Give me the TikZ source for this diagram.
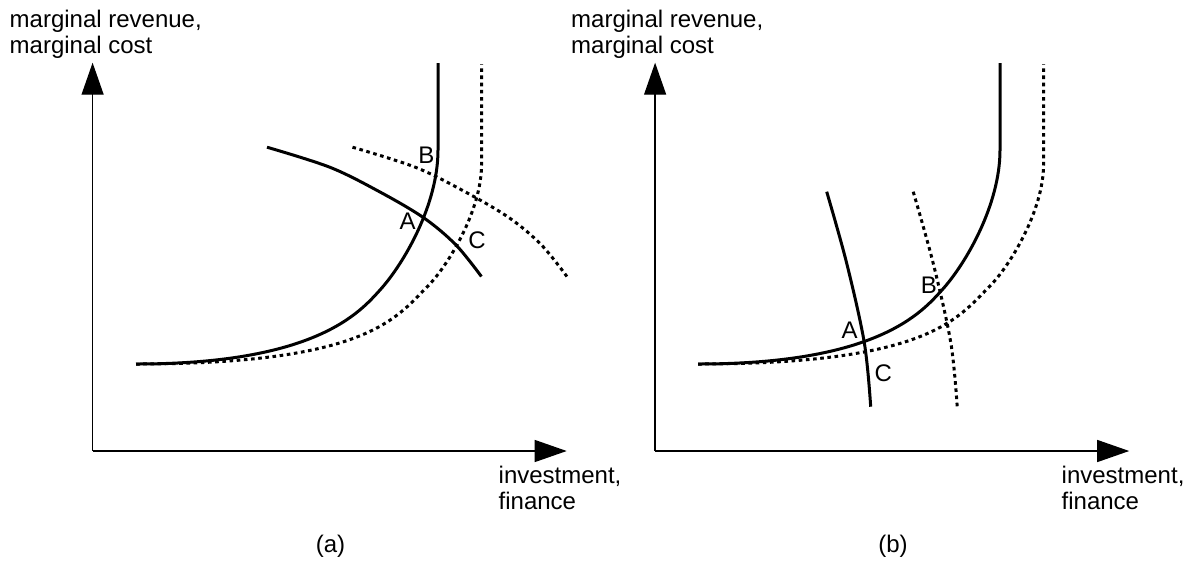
\documentclass[tikz,border=0pt]{standalone}
\usepackage{fontspec}
\setmainfont{Liberation Sans}
\usetikzlibrary{arrows.meta}
\begin{document}
\begin{tikzpicture}[x=1pt,y=-1pt,
  axis/.style={line width=1.3pt, -{Triangle[length=32pt,width=22pt]}},
  solidcurve/.style={line width=3pt, line join=round},
  dotcurve/.style={line width=3pt, dash pattern=on 3.6pt off 3.6pt},
  lab/.style={font=\fontsize{24}{26}\selectfont, inner sep=0pt, align=left},
  ptlab/.style={font=\fontsize{24}{26}\selectfont, inner sep=0pt}]
\useasboundingbox (0,0) rectangle (1190,563);

% ---------- panel (a) ----------
\coordinate (oA) at (92.6,451);
\coordinate (yA) at (92.6,62.7);
\coordinate (xA) at (566.7,451);
\draw[axis] (oA) -- (yA);
\draw[axis] (oA) -- (xA);
\node[lab, anchor=north west] (ylabA) at (9.5,9.5) {marginal revenue,\\marginal cost};
\node[lab, anchor=north west] (xlabA) at (498.5,466) {investment,\\finance};
\node[ptlab, anchor=base] (capA) at (330.5,552.5) {(a)};

% marginal cost curves
\draw[solidcurve] (136,364) .. controls (316,364) and (359.8,312.2) .. (380,290)
   .. controls (403.5,264.1) and (438,205) .. (438,150) -- (438,63);
\draw[dotcurve] (136,364) .. controls (366,364) and (395.2,318.8) .. (427,287)
   .. controls (448.2,265.8) and (481.5,210) .. (481.5,165) -- (481.5,64);
% marginal revenue curves
\draw[solidcurve] plot[smooth, tension=0.55] coordinates {(267,147.2) (330,167.3) (380,192) (424,218) (456,245) (481.4,276.5)};
\draw[dotcurve] plot[smooth, tension=0.55] coordinates {(352.5,147.2) (415.5,167.3) (465.5,192) (509.5,218) (541.5,245) (566.9,276.5)};

\node[ptlab] (Aa) at (407.5,221.7) {A};
\node[ptlab] (Ba) at (426.3,155) {B};
\node[ptlab] (Ca) at (477,240) {C};

% ---------- panel (b) ----------
\coordinate (oB) at (655.1,451);
\coordinate (yB) at (655.1,62.7);
\coordinate (xB) at (1129.2,451);
\draw[axis] (oB) -- (yB);
\draw[axis] (oB) -- (xB);
\node[lab, anchor=north west] (ylabB) at (571,9.5) {marginal revenue,\\marginal cost};
\node[lab, anchor=north west] (xlabB) at (1061.5,466) {investment,\\finance};
\node[ptlab, anchor=base] (capB) at (893,552.5) {(b)};

\begin{scope}[xshift=562pt]
\draw[solidcurve] (136,364) .. controls (316,364) and (359.8,312.2) .. (380,290)
   .. controls (403.5,264.1) and (438,205) .. (438,150) -- (438,63);
\draw[dotcurve] (136,364) .. controls (366,364) and (395.2,318.8) .. (427,287)
   .. controls (448.2,265.8) and (481.5,210) .. (481.5,165) -- (481.5,64);
\end{scope}
\draw[solidcurve] plot[smooth, tension=0.55] coordinates {(826.7,191.7) (846.7,263.3) (864.3,342.7) (870.7,406.7)};
\draw[dotcurve] plot[smooth, tension=0.55] coordinates {(913.2,191.7) (933.2,263.3) (950.8,342.7) (957.2,406.7)};

\node[ptlab] (Ab) at (849.7,330) {A};
\node[ptlab] (Bb) at (928.8,285.3) {B};
\node[ptlab] (Cb) at (883.3,372.8) {C};
\end{tikzpicture}
\end{document}
